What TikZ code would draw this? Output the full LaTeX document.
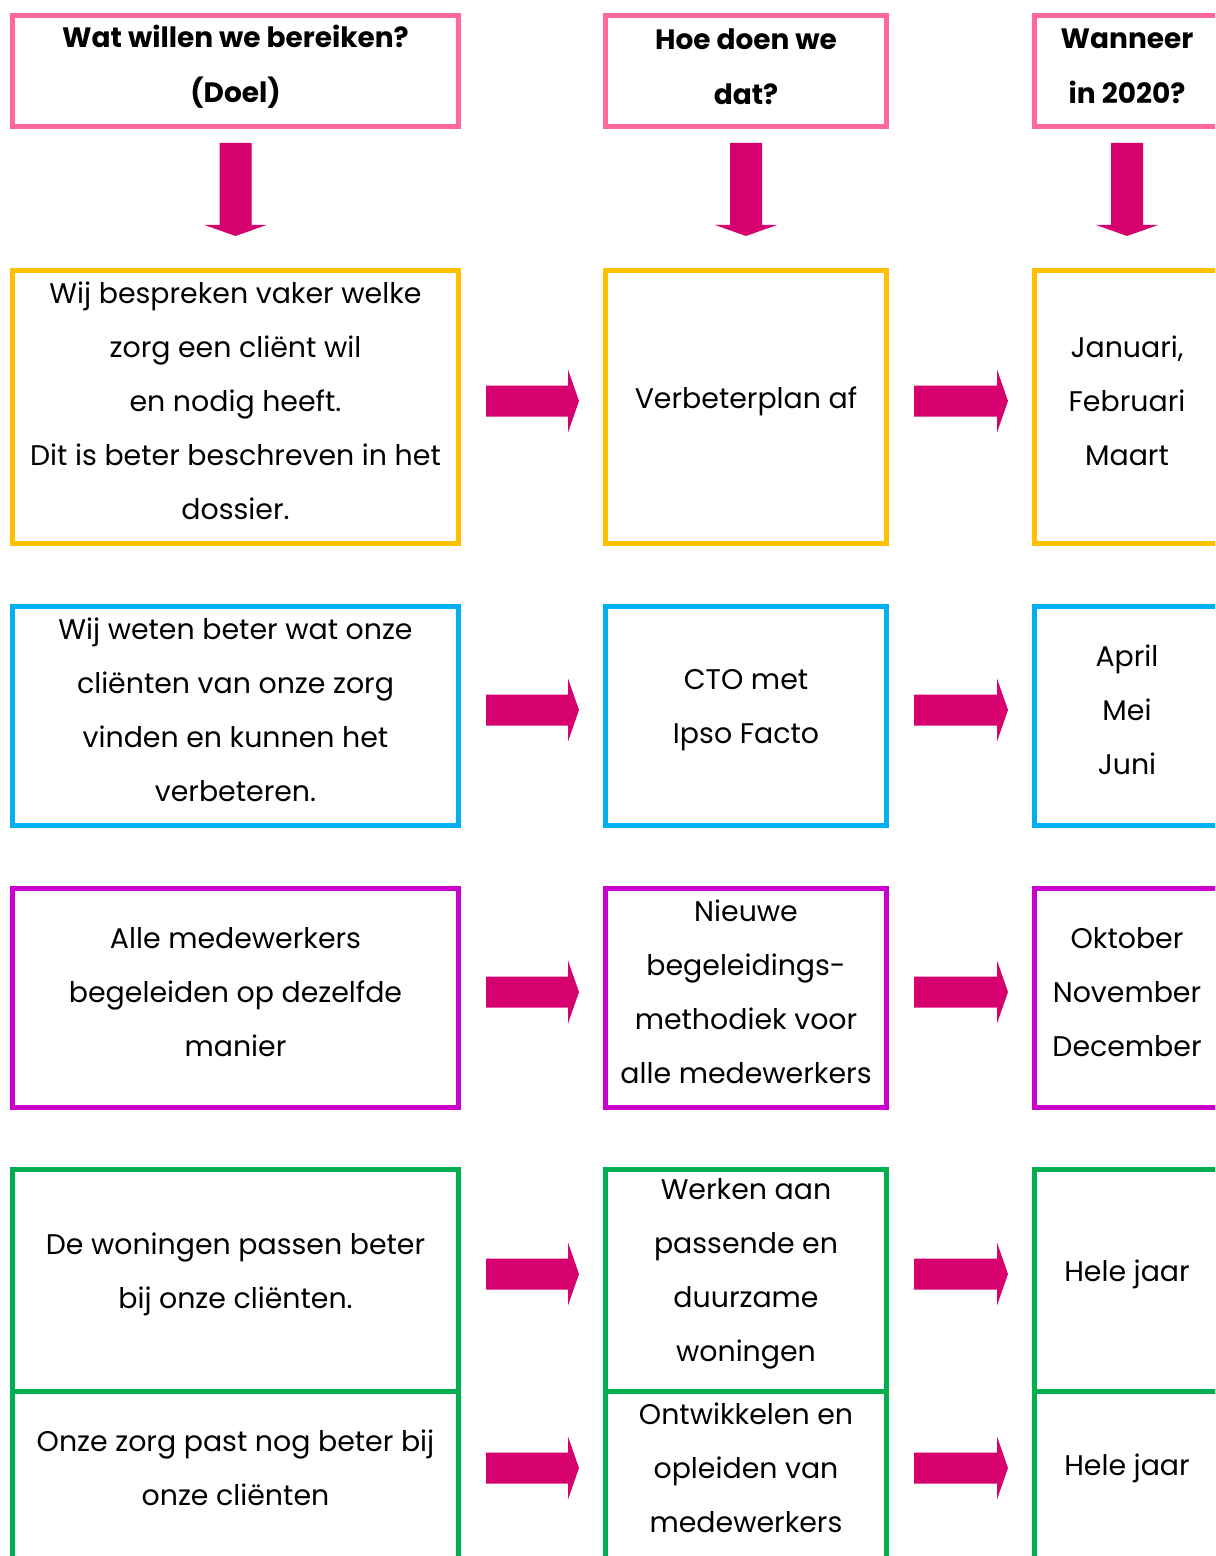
\documentclass[tikz,border=0pt]{standalone}
\usepackage{fontspec}
\setmainfont{Poppins}
\usetikzlibrary{calc}

\definecolor{kleurkop}{RGB}{255,102,153}
\definecolor{kleurpijl}{RGB}{214,0,111}
\definecolor{kleurgeel}{RGB}{255,192,0}
\definecolor{kleurblauw}{RGB}{0,176,240}
\definecolor{kleurpaars}{RGB}{204,0,204}
\definecolor{kleurgroen}{RGB}{0,176,80}

\tikzset{
  vak/.style={draw, line width=2.5pt, inner sep=0pt},
  kolA/.style={vak, minimum width=223pt},
  kolB/.style={vak, minimum width=140.5pt},
  kolC/.style={vak, minimum width=92.5pt},
  tekst/.style={align=center, font=\fontsize{14.2}{27}\selectfont},
  kopje/.style={align=center, font=\fontsize{14}{27.5}\selectfont\bfseries},
  pijl/.style={fill=kleurpijl}
}

\newcommand{\pijlR}[3]{%
  \fill[pijl] let \p1=(#1.east |- #3), \p2=(#2.west |- #3) in
    (\x1+12.5pt,\y1+7.75pt) -- (\x2-17.5pt,\y1+7.75pt) -- (\x2-17.5pt,\y1+15.75pt)
    -- (\x2-12pt,\y1) -- (\x2-17.5pt,\y1-15.75pt) -- (\x2-17.5pt,\y1-7.75pt)
    -- (\x1+12.5pt,\y1-7.75pt) -- cycle;}
\newcommand{\pijlO}[2]{%
  \fill[pijl] let \p1=(#1.south), \p2=(#2.north) in
    (\x1-8pt,\y1-7pt) -- (\x1-8pt,\y2+21.5pt) -- (\x1-15.5pt,\y2+21.5pt)
    -- (\x1,\y2+16pt) -- (\x1+15.5pt,\y2+21.5pt) -- (\x1+8pt,\y2+21.5pt)
    -- (\x1+8pt,\y1-7pt) -- cycle;}

\begin{document}
\begin{tikzpicture}[x=0.5pt,y=-0.5pt]
\useasboundingbox (0,0) rectangle (1215,1556);
\clip (0,0) rectangle (1215,1556);

\node at (235.5,71)[kolA, draw=kleurkop, minimum height=55.5pt] (k1) {};
\node at (746,71)[kolB, draw=kleurkop, minimum height=55.5pt] (k2) {};
\node at (1127,71)[kolC, draw=kleurkop, minimum height=55.5pt] (k3) {};
\node at (235.5,66.5)[kopje] (k1t) {Wat willen we bereiken?\\(Doel)};
\node at (746,66.5)[kopje] (k2t) {Hoe doen we\\dat?};
\node at (1127,66.5)[kopje] (k3t) {Wanneer\\in 2020?};

\node at (235.5,407)[kolA, draw=kleurgeel, minimum height=136.5pt] (a1) {};
\node at (746,407)[kolB, draw=kleurgeel, minimum height=136.5pt] (b1) {};
\node at (1127,407)[kolC, draw=kleurgeel, minimum height=136.5pt] (c1) {};
\node at (235.5,401)[tekst] (a1t) {Wij bespreken vaker welke\\zorg een cliënt wil\\en nodig heeft.\\Dit is beter beschreven in het\\dossier.};
\node at (746,401)[tekst] (b1t) {Verbeterplan af};
\node at (1127,401)[tekst] (c1t) {Januari,\\Februari\\Maart};

\node at (235.5,716)[kolA, draw=kleurblauw, minimum height=109.5pt] (a2) {};
\node at (746,716)[kolB, draw=kleurblauw, minimum height=109.5pt] (b2) {};
\node at (1127,716)[kolC, draw=kleurblauw, minimum height=109.5pt] (c2) {};
\node at (235.5,710)[tekst] (a2t) {Wij weten beter wat onze\\cliënten van onze zorg\\vinden en kunnen het\\verbeteren.};
\node at (746,710)[tekst] (b2t) {CTO met\\Ipso Facto};
\node at (1127,710)[tekst] (c2t) {April\\Mei\\Juni};

\node at (235.5,998)[kolA, draw=kleurpaars, minimum height=109.5pt] (a3) {};
\node at (746,998)[kolB, draw=kleurpaars, minimum height=109.5pt] (b3) {};
\node at (1127,998)[kolC, draw=kleurpaars, minimum height=109.5pt] (c3) {};
\node at (235.5,992)[tekst] (a3t) {Alle medewerkers\\begeleiden op dezelfde\\manier};
\node at (746,992)[tekst] (b3t) {Nieuwe\\begeleidings-\\methodiek voor\\alle medewerkers};
\node at (1127,992)[tekst] (c3t) {Oktober\\November\\December};

\node at (235.5,1280.25)[kolA, draw=kleurgroen, minimum height=110.75pt] (a4) {};
\node at (746,1280.25)[kolB, draw=kleurgroen, minimum height=110.75pt] (b4) {};
\node at (1127,1280.25)[kolC, draw=kleurgroen, minimum height=110.75pt] (c4) {};
\node at (235.5,1274)[tekst] (a4t) {De woningen passen beter\\bij onze cliënten.};
\node at (746,1274)[tekst] (b4t) {Werken aan\\passende en\\duurzame\\woningen};
\node at (1127,1274)[tekst] (c4t) {Hele jaar};

\node at (235.5,1501.75)[kolA, draw=kleurgroen, minimum height=110.75pt] (a5) {};
\node at (746,1501.75)[kolB, draw=kleurgroen, minimum height=110.75pt] (b5) {};
\node at (1127,1501.75)[kolC, draw=kleurgroen, minimum height=110.75pt] (c5) {};
\node at (235.5,1468)[tekst] (a5t) {Onze zorg past nog beter bij\\onze cliënten};
\node at (746,1468)[tekst] (b5t) {Ontwikkelen en\\opleiden van\\medewerkers};
\node at (1127,1468)[tekst] (c5t) {Hele jaar};

\pijlO{k1}{a1}
\pijlO{k2}{b1}
\pijlO{k3}{c1}
\pijlR{a1}{b1}{a1t}
\pijlR{b1}{c1}{a1t}
\pijlR{a2}{b2}{a2t}
\pijlR{b2}{c2}{a2t}
\pijlR{a3}{b3}{a3t}
\pijlR{b3}{c3}{a3t}
\pijlR{a4}{b4}{a4t}
\pijlR{b4}{c4}{a4t}
\pijlR{a5}{b5}{a5t}
\pijlR{b5}{c5}{a5t}
\end{tikzpicture}
\end{document}
